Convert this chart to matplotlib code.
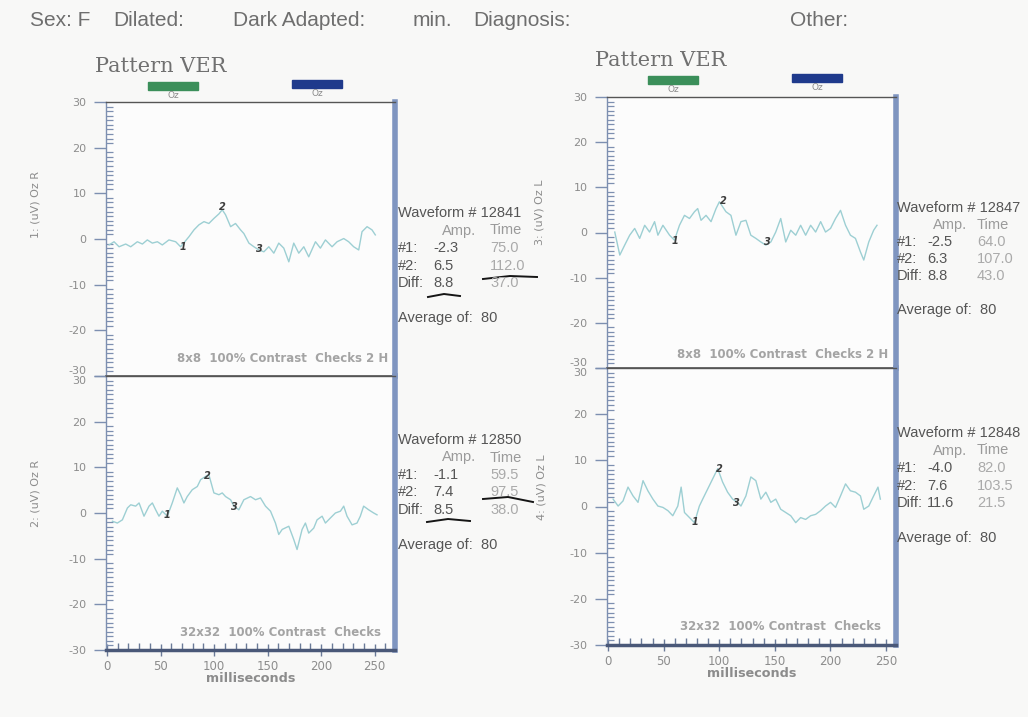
import matplotlib
matplotlib.use('Agg')
import matplotlib.pyplot as plt
from matplotlib.ticker import MultipleLocator
from matplotlib.lines import Line2D

W, H = 1028, 717

# ---------------- data ----------------
t_1 = [1.9, 6.5, 11.2, 17.4, 22.1, 28.3, 33.0, 37.6, 42.3, 47.0, 51.6, 57.8, 64.1, 68.7,
       76.5, 81.2, 85.8, 90.5, 95.1, 99.8, 104.5, 107.6, 110.7, 115.4, 120.0, 124.7, 127.8,
       132.5, 137.2, 141.8, 146.5, 151.1, 155.8, 160.4, 165.1, 169.8, 174.4, 179.1, 183.8,
       188.4, 194.7, 199.3, 204.0, 210.2, 214.9, 221.1, 225.7, 230.4, 235.1, 238.2, 242.9,
       247.5, 250.6]
v_1 = [-1.3, -0.6, -1.7, -1.1, -1.7, -0.6, -1.1, -0.2, -0.9, -0.6, -1.3, -0.2, -0.6, -1.7,
       0.5, 2.0, 3.1, 3.8, 3.4, 4.5, 5.5, 6.4, 5.3, 2.7, 3.4, 2.0, 1.2,
       -0.9, -1.7, -2.4, -2.8, -1.7, -3.1, -0.9, -2.0, -5.0, -0.9, -3.1, -1.7,
       -3.9, -0.6, -2.0, -0.2, -1.7, -0.6, 0.1, -0.6, -1.7, -2.4, 1.6, 2.7,
       2.0, 0.9]

t_2 = [5.0, 9.6, 14.3, 19.0, 22.1, 26.7, 29.9, 34.5, 39.2, 42.3, 45.4, 48.5, 51.6, 56.3,
       60.9, 65.6, 68.7, 71.8, 74.9, 79.6, 84.3, 87.4, 92.0, 95.1, 99.8, 104.5, 107.6,
       110.7, 115.4, 118.5, 123.1, 127.8, 134.0, 138.7, 143.3, 148.0, 152.7, 157.3, 160.4,
       163.6, 169.8, 174.4, 177.5, 182.2, 185.3, 188.4, 193.1, 196.2, 200.9, 204.0, 208.6,
       213.3, 218.0, 221.1, 224.2, 228.9, 233.5, 236.6, 239.7, 244.4, 249.1, 252.2]
v_2 = [-1.8, -2.2, -1.5, 1.1, 1.8, 1.5, 2.2, -0.7, 1.5, 2.2, 0.7, -0.7, 0.4, -0.7,
       2.2, 5.5, 4.0, 2.2, 3.6, 5.1, 5.8, 7.3, 8.0, 8.4, 4.4, 4.0, 4.4,
       3.6, 2.9, 1.5, 0.7, 2.9, 3.6, 2.9, 3.3, 1.5, 0.4, -2.2, -4.7,
       -3.6, -2.9, -5.8, -8.0, -3.6, -2.2, -4.4, -3.3, -1.5, -0.7, -2.2, -1.1,
       0.0, 0.4, 1.5, -0.7, -2.6, -2.2, -0.7, 1.5, 0.7, 0.0, -0.4]

t_3 = [6.0, 10.5, 14.9, 19.4, 23.9, 28.4, 32.9, 37.3, 41.8, 44.8, 49.3, 55.3, 59.7, 64.2,
       68.7, 73.2, 77.7, 80.6, 83.6, 88.1, 92.6, 97.1, 100.1, 106.0, 110.5, 115.0, 119.5,
       124.0, 128.4, 132.9, 137.4, 141.9, 146.4, 150.8, 155.3, 159.8, 164.3, 168.8, 173.2,
       177.7, 182.2, 186.7, 191.2, 195.6, 200.1, 204.6, 209.1, 213.6, 218.0, 222.5, 227.0,
       230.0, 234.5, 238.9, 241.9]
v_3 = [0.1, -5.0, -2.8, -0.6, 0.9, -1.3, 1.6, 0.1, 2.4, -0.6, 1.6, -0.6, -1.7, 1.6,
       3.8, 3.1, 4.6, 5.3, 2.7, 3.8, 2.4, 5.3, 6.8, 4.6, 3.8, -0.6, 2.4,
       2.7, -0.6, -1.3, -2.1, -2.8, -2.1, 0.1, 3.1, -2.1, 0.5, -0.6, 1.6,
       -0.6, 1.6, 0.1, 2.4, 0.1, 0.9, 3.1, 4.9, 1.6, -0.6, -1.3, -4.3,
       -6.1, -2.1, 0.5, 1.6]

t_4 = [4.5, 9.0, 13.4, 17.9, 22.4, 26.9, 31.4, 35.8, 40.3, 44.8, 49.3, 53.8, 58.2, 62.7,
       65.7, 68.7, 73.2, 77.7, 82.1, 85.1, 89.6, 94.1, 98.6, 103.0, 107.5, 112.0, 116.5,
       119.5, 124.0, 128.4, 132.9, 137.4, 141.9, 146.4, 150.8, 155.3, 159.8, 164.3, 168.8,
       173.2, 177.7, 182.2, 186.7, 191.2, 195.6, 200.1, 204.6, 209.1, 213.6, 218.0, 222.5,
       227.0, 230.0, 234.5, 238.9, 242.8, 244.9]
v_4 = [1.6, 0.1, 1.2, 4.2, 2.3, 0.9, 5.6, 3.4, 1.6, 0.1, -0.2, -0.9, -2.0, 0.1,
       4.2, -1.3, -2.4, -3.5, 0.1, 1.6, 3.8, 6.0, 8.2, 5.3, 3.1, 1.6, 0.9,
       0.1, 2.3, 6.4, 5.6, 1.6, 3.1, 0.9, 1.6, -0.6, -1.3, -2.0, -3.5,
       -2.4, -2.8, -2.0, -1.7, -0.9, 0.1, 0.9, -0.2, 2.3, 4.9, 3.4, 3.1,
       2.3, -0.6, 0.1, 2.3, 4.2, 1.6]

traces_t = [t_1, t_2, t_3, t_4]
traces_v = [v_1, v_2, v_3, v_4]

waveform_ids = ['12841', '12850', '12847', '12848']
amp_1 = ['-2.3', '-1.1', '-2.5', '-4.0']
amp_2 = ['6.5', '7.4', '6.3', '7.6']
amp_diff = ['8.8', '8.5', '8.8', '11.6']
time_1 = ['75.0', '59.5', '64.0', '82.0']
time_2 = ['112.0', '97.5', '107.0', '103.5']
time_diff = ['37.0', '38.0', '43.0', '21.5']
average_of = ['80', '80', '80', '80']
marker_t = [[75.0, 112.0, 146.0], [59.5, 97.5, 123.0], [64.0, 107.0, 147.0], [82.0, 103.5, 119.5]]
marker_v = [[-2.3, 6.5, -2.8], [-1.1, 7.4, 0.7], [-2.5, 6.3, -2.8], [-4.0, 7.6, 0.1]]
channel_labels = ['1: (uV) Oz R', '2: (uV) Oz R', '3: (uV) Oz L', '4: (uV) Oz L']
stim_labels = ['8x8  100% Contrast  Checks 2 H', '32x32  100% Contrast  Checks',
               '8x8  100% Contrast  Checks 2 H', '32x32  100% Contrast  Checks']
y_ticks = [-30, -20, -10, 0, 10, 20, 30]
x_ticks = [0, 50, 100, 150, 200, 250]
header_items = [('Sex: F', 30), ('Dilated:', 113), ('Dark Adapted:', 233), ('min.', 413),
                ('Diagnosis:', 473), ('Other:', 790)]

# ---------------- layout ----------------
fig = plt.figure(figsize=(W / 100, H / 100), dpi=100, facecolor='#f8f8f7')

def fx(x):
    return x / W

def fy(y):
    return 1 - y / H

# panel boxes in pixels: (left, right, top, bottom)
boxes = [(106, 395, 102, 376), (106, 395, 376, 650), (607, 896, 97, 368), (607, 896, 368, 645)]
xmax = [269, 269, 259, 259]
info_xy = [(398, 213), (398, 440), (897, 208), (897, 433)]
# column offsets: amp label, time label, amp values, time values
info_cols = [(44, 92, 35, 92), (44, 92, 35, 92), (36, 80, 30, 80), (36, 80, 30, 80)]
chan_xy = [(36, 205), (36, 493), (540, 212), (542, 487)]
stim_xy = [(177, 358), (180, 632), (677, 355), (680, 626)]

TRACE = '#9dcfd3'
GRAY = '#8c8c8c'
DARK = '#555555'
INFO_FONT = 'Liberation Sans'

for i in range(4):
    l, r, t, b = boxes[i]
    ax = fig.add_axes([fx(l), fy(b), fx(r) - fx(l), fy(t) - fy(b)])
    ax.set_facecolor('#fcfcfc')
    ax.plot(traces_t[i], traces_v[i], color=TRACE, lw=1.0)
    ax.set_xlim(-1, xmax[i])
    ax.set_ylim(-30, 30)
    for k in range(3):
        ax.annotate(str(k + 1), (marker_t[i][k], marker_v[i][k]), xytext=(-3, 2),
                    textcoords='offset points', ha='center', va='center',
                    fontsize=7, fontstyle='italic', fontweight='bold', color='#3c3c3c')
    ax.yaxis.set_minor_locator(MultipleLocator(1))
    ax.set_yticks(y_ticks)
    ax.set_yticklabels([str(v) for v in y_ticks])
    ax.tick_params(axis='y', which='major', direction='out', length=9, width=1,
                   color='#7d8fb0', labelsize=8, labelcolor=GRAY, pad=5)
    ax.tick_params(axis='y', which='minor', direction='in', length=5, width=0.9,
                   color='#7d8fb0')
    ax.spines['left'].set_color('#7d8fb0')
    ax.spines['left'].set_linewidth(1.0)
    ax.spines['right'].set_color('#7f95c0')
    ax.spines['right'].set_linewidth(4)
    ax.spines['top'].set_color('#555555')
    ax.spines['top'].set_linewidth(1.0)
    bottom_panel = (i % 2 == 1)
    labels = ax.get_yticklabels()
    if bottom_panel:
        labels[-1].set_verticalalignment('top')
        ax.spines['bottom'].set_color('#4a5878')
        ax.spines['bottom'].set_linewidth(2.5)
        ax.xaxis.set_minor_locator(MultipleLocator(10))
        ax.set_xticks(x_ticks)
        ax.set_xticklabels([str(v) for v in x_ticks])
        ax.tick_params(axis='x', which='major', direction='inout', length=8, width=1,
                       color='#6a7a98', labelsize=8.5, labelcolor=GRAY, pad=3)
        ax.tick_params(axis='x', which='minor', direction='in', length=5, width=1,
                       color='#6a7a98')
        ax.set_xlabel('milliseconds', fontsize=9.2, color=GRAY, labelpad=0, fontweight='bold')
        ax.xaxis.set_label_coords(0.5, -0.08)
    else:
        labels[0].set_verticalalignment('bottom')
        ax.spines['bottom'].set_color('#555555')
        ax.spines['bottom'].set_linewidth(1.2)
        ax.set_xticks([])
    # stimulus text, clipped at the panel border
    sx, sy = stim_xy[i]
    st = fig.text(fx(sx), fy(sy), stim_labels[i], fontsize=8.5, color='#a4a4a4', va='center',
                  ha='left', fontweight='bold')
    st.set_clip_path(ax.patch)
    # channel label
    cx, cy = chan_xy[i]
    fig.text(fx(cx), fy(cy), channel_labels[i], rotation=90, fontsize=8, color=GRAY,
             ha='center', va='center')
    # info box
    ix, iy = info_xy[i]
    ca, ct, va_, vt = info_cols[i]
    step = 17.5 if i != 2 else 17.0
    tc = dict(fontsize=10.5, va='center', ha='left', family=INFO_FONT)
    fig.text(fx(ix), fy(iy), 'Waveform # ' + waveform_ids[i], color=DARK, **tc)
    fig.text(fx(ix + ca), fy(iy + step), 'Amp.', color='#9a9a9a', **tc)
    fig.text(fx(ix + ct), fy(iy + step), 'Time', color='#9a9a9a', **tc)
    rows = [('#1:', amp_1[i], time_1[i]), ('#2:', amp_2[i], time_2[i]),
            ('Diff:', amp_diff[i], time_diff[i])]
    for k, (lab, a, tm) in enumerate(rows):
        yy = iy + step * (k + 2)
        fig.text(fx(ix), fy(yy), lab, color=DARK, **tc)
        fig.text(fx(ix + va_), fy(yy), a, color=DARK, **tc)
        fig.text(fx(ix + vt), fy(yy), tm, color='#aaaaaa', **tc)
    fig.text(fx(ix), fy(iy + step * 6), 'Average of:  ' + average_of[i], color=DARK, **tc)

# handwritten underlines (left info boxes only)
underlines = [
    ([428, 444, 460], [297, 294, 296]),
    ([483, 510, 537], [279, 276, 277]),
    ([427, 448, 470], [522, 519, 521]),
    ([483, 508, 533], [499, 497, 502]),
]
for xs, ys in underlines:
    fig.add_artist(Line2D([fx(x) for x in xs], [fy(y) for y in ys], color='#151515', lw=1.4))

# header
for txt, x in header_items:
    fig.text(fx(x), fy(20), txt, fontsize=15, color='#6e6e6e', va='center', ha='left',
             family='Liberation Sans')

# Pattern VER titles and legend swatches
for (tx, ty, gx, gy, bx, by) in [(95, 66, 148, 86, 292, 84), (595, 60, 648, 80, 792, 78)]:
    fig.text(fx(tx), fy(ty), 'Pattern VER', fontsize=15, color='#707070', va='center',
             ha='left', family='DejaVu Serif')
    fig.patches.append(plt.Rectangle((fx(gx), fy(gy + 4)), fx(50), 8 / H,
                                     transform=fig.transFigure, color='#3b8f5a'))
    fig.patches.append(plt.Rectangle((fx(bx), fy(by + 4)), fx(50), 8 / H,
                                     transform=fig.transFigure, color='#1f3a8c'))
    fig.text(fx(gx + 25), fy(gy + 10), 'Oz', fontsize=6.5, color='#8a8a8a', ha='center', va='center')
    fig.text(fx(bx + 25), fy(by + 10), 'Oz', fontsize=6.5, color='#8a8a8a', ha='center', va='center')

fig.savefig('out.png', dpi=100, facecolor=fig.get_facecolor())
